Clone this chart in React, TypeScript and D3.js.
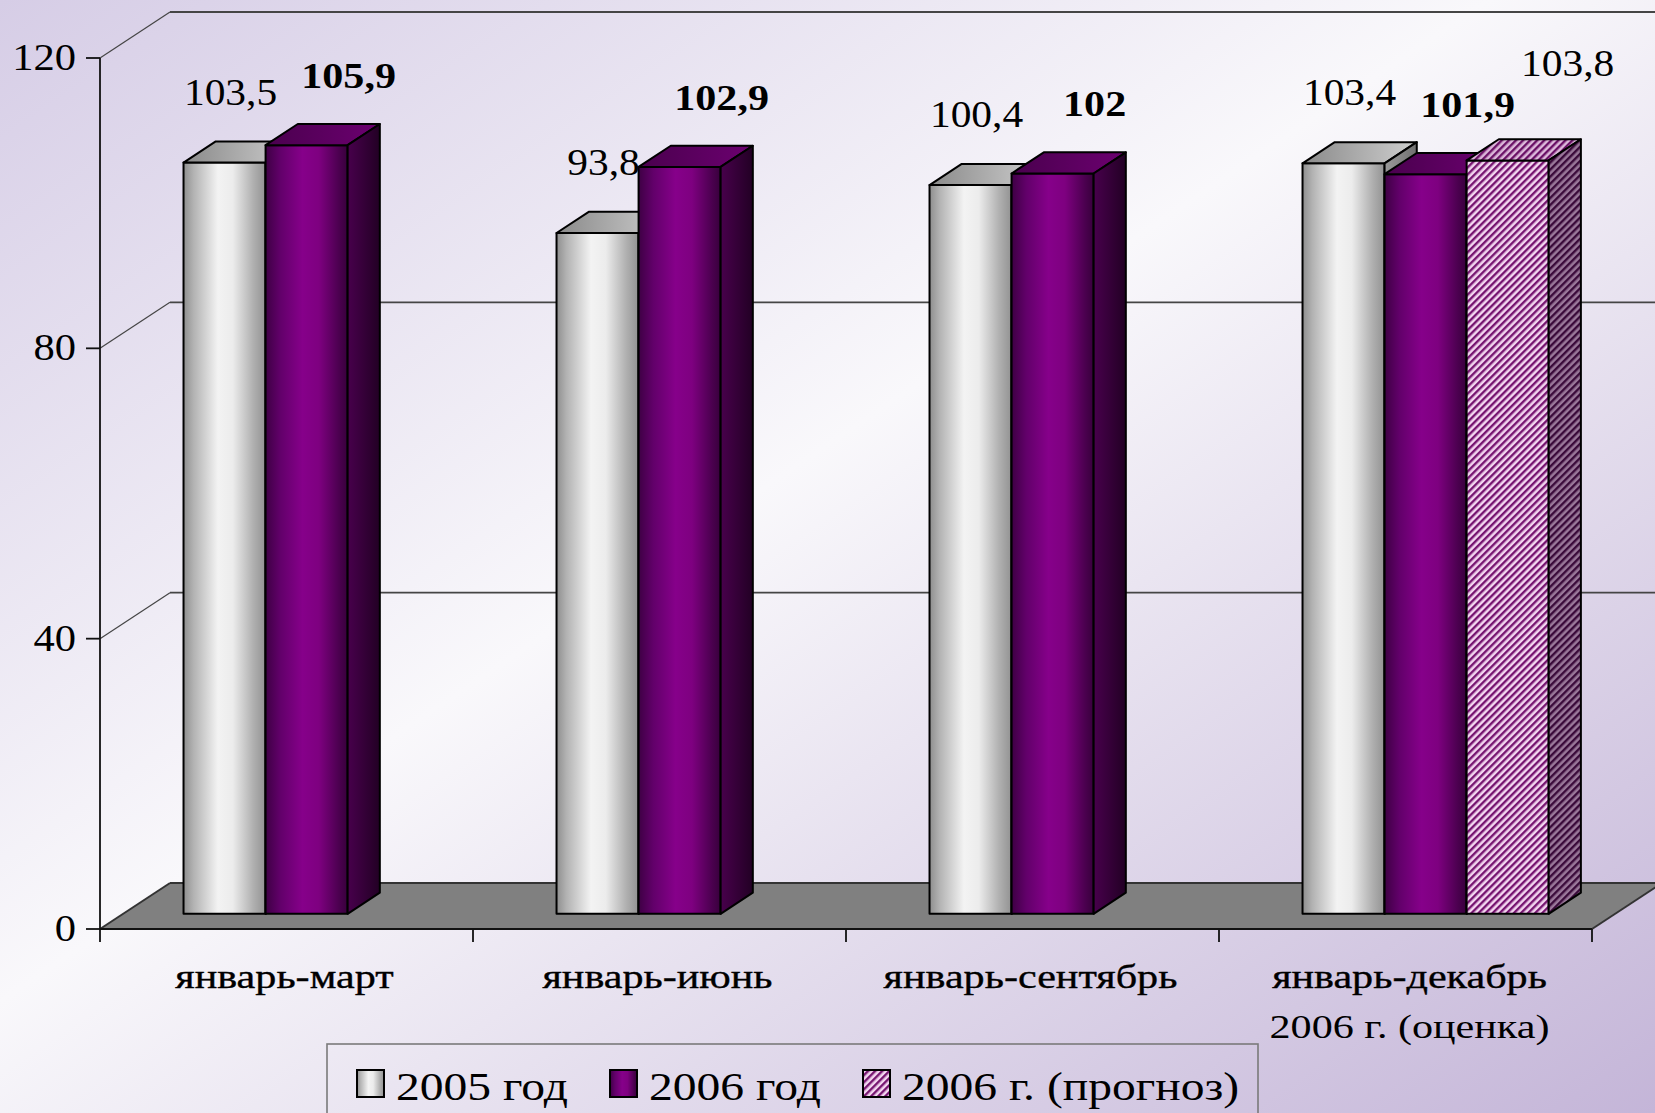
import React from "react";
import * as d3 from "d3";

const W = 1655;
const H = 1113;

const categoryLines: string[][] = [
  ["январь-март"],
  ["январь-июнь"],
  ["январь-сентябрь"],
  ["январь-декабрь", "2006 г. (оценка)"],
];
const seriesNames = ["2005 год", "2006 год", "2006 г. (прогноз)"];
const values2005: (number | null)[] = [103.5, 93.8, 100.4, 103.4];
const values2006: (number | null)[] = [105.9, 102.9, 102, 101.9];
const valuesForecast: (number | null)[] = [null, null, null, 103.8];
const yTicks = [0, 40, 80, 120];

const seriesValues = [values2005, values2006, valuesForecast];
const seriesKeys = ["s2005", "s2006", "sForecast"];

// layout
const axisX = 100;
const plotRight = 1592;
const y0 = 929;
const yTop = 58;
const DX = 70;
const DY = -46;
const Z0 = 0.33;
const Z1 = 0.79;

const FONT = "'Liberation Serif', 'Times New Roman', serif";

const fills = [
  { front: "url(#gFront)", top: "url(#gTop)", side: "url(#gSide)" },
  { front: "url(#pFront)", top: "url(#pTop)", side: "url(#pSide)" },
  { front: "url(#hFront)", top: "url(#hTop)", side: "url(#hSide)" },
];
const labelStyle = [
  { dx: 6, dy: -58, weight: "normal" },
  { dx: 42, dy: -57, weight: "bold" },
  { dx: 60, dy: -84, weight: "normal" },
];

function fmt(v: number) {
  return String(v).replace(".", ",");
}

function SText(props: {
  x: number;
  y: number;
  size: number;
  sx?: number;
  anchor?: string;
  weight?: string;
  stroke?: number;
  children: React.ReactNode;
}) {
  const { x, y, size, sx = 1.12, anchor = "middle", weight = "normal", stroke = 0 } = props;
  return (
    <text
      transform={`translate(${x},${y}) scale(${sx},1)`}
      fontFamily={FONT}
      fontSize={size}
      fontWeight={weight}
      textAnchor={anchor}
      fill="#000"
      stroke={stroke ? "#000" : "none"}
      strokeWidth={stroke}
    >
      {props.children}
    </text>
  );
}

export default function App() {
  const x0 = d3
    .scaleBand<number>()
    .domain(d3.range(categoryLines.length))
    .range([axisX, plotRight])
    .padding(0);
  const x1 = d3
    .scaleBand<string>()
    .domain(seriesKeys)
    .range([0, x0.bandwidth()])
    .paddingInner(0)
    .paddingOuter(0.773);
  const y = d3.scaleLinear().domain([0, 120]).range([y0, yTop]);

  const bw = x1.bandwidth();
  const ddx = (Z1 - Z0) * DX;
  const ddy = (Z1 - Z0) * DY;
  const zx = Z0 * DX;
  const zy = Z0 * DY;

  const bars: React.ReactNode[] = [];
  const labels: React.ReactNode[] = [];
  categoryLines.forEach((_, ci) => {
    seriesValues.forEach((arr, si) => {
      const v = arr[ci];
      if (v == null) return;
      const xl = (x0(ci) as number) + (x1(seriesKeys[si]) as number) + zx - 3;
      const xr = xl + bw;
      const yb = y(0) + zy;
      const yt = y(v) + zy;
      const f = fills[si];
      bars.push(
        <g key={`b${ci}-${si}`} stroke="#000" strokeWidth={2} strokeLinejoin="round">
          <rect x={xl} y={yt} width={bw} height={yb - yt} fill={f.front} />
          <polygon
            points={`${xl},${yt} ${xl + ddx},${yt + ddy} ${xr + ddx},${yt + ddy} ${xr},${yt}`}
            fill={f.top}
          />
          <polygon
            points={`${xr},${yt} ${xr + ddx},${yt + ddy} ${xr + ddx},${yb + ddy} ${xr},${yb}`}
            fill={f.side}
          />
        </g>
      );
      const ls = labelStyle[si];
      labels.push(
        <SText
          key={`l${ci}-${si}`}
          x={(xl + xr) / 2 + ls.dx}
          y={yt + ls.dy}
          size={ls.weight === "bold" ? 36 : 37}
          sx={ls.weight === "bold" ? 1.17 : 1.12}
          weight={ls.weight}
        >
          {fmt(v)}
        </SText>
      );
    });
  });

  const farRight = plotRight + DX + 40;

  return (
    <svg
      width={W}
      height={H}
      style={{ position: "absolute", left: 0, top: 0, display: "block" }}
      xmlns="http://www.w3.org/2000/svg"
    >
      <defs>
        <linearGradient id="bg" x1="0" y1="0" x2="1" y2="1">
          <stop offset="0" stopColor="#d6cde6" />
          <stop offset="0.45" stopColor="#f9f8fb" />
          <stop offset="1" stopColor="#c4b5d8" />
        </linearGradient>
        <linearGradient id="gFront" x1="0" y1="0" x2="1" y2="0">
          <stop offset="0" stopColor="#8e8e8e" />
          <stop offset="0.12" stopColor="#b2b2b2" />
          <stop offset="0.42" stopColor="#f3f3f3" />
          <stop offset="0.6" stopColor="#ececec" />
          <stop offset="0.85" stopColor="#b0b0b0" />
          <stop offset="1" stopColor="#929292" />
        </linearGradient>
        <linearGradient id="gTop" x1="0" y1="0" x2="1" y2="0">
          <stop offset="0" stopColor="#8a8a8a" />
          <stop offset="1" stopColor="#cfcfcf" />
        </linearGradient>
        <linearGradient id="gSide" x1="0" y1="0" x2="1" y2="0">
          <stop offset="0" stopColor="#9a9a9a" />
          <stop offset="1" stopColor="#707070" />
        </linearGradient>
        <linearGradient id="pFront" x1="0" y1="0" x2="1" y2="0">
          <stop offset="0" stopColor="#3e0044" />
          <stop offset="0.18" stopColor="#62006a" />
          <stop offset="0.45" stopColor="#86008a" />
          <stop offset="0.65" stopColor="#7e0080" />
          <stop offset="0.9" stopColor="#4a004e" />
          <stop offset="1" stopColor="#38003c" />
        </linearGradient>
        <linearGradient id="pTop" x1="0" y1="0" x2="1" y2="0">
          <stop offset="0" stopColor="#4a004e" />
          <stop offset="1" stopColor="#6c0070" />
        </linearGradient>
        <linearGradient id="pSide" x1="0" y1="0" x2="1" y2="0">
          <stop offset="0" stopColor="#48004c" />
          <stop offset="1" stopColor="#220024" />
        </linearGradient>
        <pattern id="hFront" patternUnits="userSpaceOnUse" width="5" height="5" patternTransform="rotate(45)">
          <rect width="5" height="5" fill="#f3d6f0" />
          <rect width="2.4" height="5" fill="#761470" />
        </pattern>
        <pattern id="hTop" patternUnits="userSpaceOnUse" width="5" height="5" patternTransform="rotate(45)">
          <rect width="5" height="5" fill="#dcb8da" />
          <rect width="2.4" height="5" fill="#6a1066" />
        </pattern>
        <pattern id="hSide" patternUnits="userSpaceOnUse" width="5" height="5" patternTransform="rotate(45)">
          <rect width="5" height="5" fill="#9a789a" />
          <rect width="2.4" height="5" fill="#3a0a3a" />
        </pattern>
      </defs>

      <rect x={0} y={0} width={W} height={H} fill="url(#bg)" />

      {/* back wall & side-wall grid */}
      <g stroke="#454545" fill="none">
        {yTicks.slice(1).map((t) => (
          <g key={`gr${t}`}>
            <line x1={axisX} y1={y(t)} x2={axisX + DX} y2={y(t) + DY} strokeWidth={1.2} />
            <line
              x1={axisX + DX}
              y1={y(t) + DY}
              x2={farRight}
              y2={y(t) + DY}
              strokeWidth={t === 120 ? 2.2 : 1.6}
            />
          </g>
        ))}
      </g>

      {/* floor */}
      <polygon
        points={`${axisX},${y(0)} ${axisX + DX},${y(0) + DY} ${farRight},${y(0) + DY} ${plotRight + DX},${y(0) + DY} ${plotRight},${y(0)}`}
        fill="#808080"
        stroke="none"
      />
      <g stroke="#333" strokeWidth={2} fill="none">
        <line x1={axisX + DX} y1={y(0) + DY} x2={farRight} y2={y(0) + DY} />
        <line x1={axisX} y1={y(0)} x2={axisX + DX} y2={y(0) + DY} />
        <line x1={plotRight} y1={y(0)} x2={plotRight + DX} y2={y(0) + DY} />
      </g>

      {bars}

      {/* axes */}
      <g stroke="#111" strokeWidth={1.8}>
        <line x1={axisX} y1={y(120)} x2={axisX} y2={y(0) + 13} />
        <line x1={axisX} y1={y(0)} x2={plotRight} y2={y(0)} />
        {yTicks.map((t) => (
          <line key={`yt${t}`} x1={axisX - 14} y1={y(t)} x2={axisX} y2={y(t)} />
        ))}
        {categoryLines.map((_, ci) => (
          <line
            key={`xt${ci}`}
            x1={(x0(ci) as number) + x0.bandwidth()}
            y1={y(0)}
            x2={(x0(ci) as number) + x0.bandwidth()}
            y2={y(0) + 13}
          />
        ))}
      </g>
      {yTicks.map((t) => (
        <SText key={`yl${t}`} x={76} y={y(t) + 12} size={37} sx={1.15} anchor="end">
          {t}
        </SText>
      ))}
      {categoryLines.map((lines, ci) =>
        lines.map((ln, li) => (
          <SText
            key={`cl${ci}-${li}`}
            x={(x0(ci) as number) + x0.bandwidth() / 2 + (lines.length > 1 ? 4 : -2)}
            y={988 + li * 50}
            size={34}
            sx={1.24}
            stroke={li === 0 ? 0.35 : 0}
          >
            {ln}
          </SText>
        ))
      )}

      {labels}

      {/* legend */}
      <rect x={327} y={1044} width={931} height={90} fill="none" stroke="#7a7a7a" strokeWidth={1.6} />
      {seriesNames.map((name, i) => {
        const lx = [357, 610, 863][i];
        return (
          <g key={`lg${i}`}>
            <rect x={lx} y={1070} width={27} height={27} fill={fills[i].front} stroke="#000" strokeWidth={2} />
            <SText x={lx + 39} y={1100} size={41} sx={1.16} anchor="start">
              {name}
            </SText>
          </g>
        );
      })}
    </svg>
  );
}
